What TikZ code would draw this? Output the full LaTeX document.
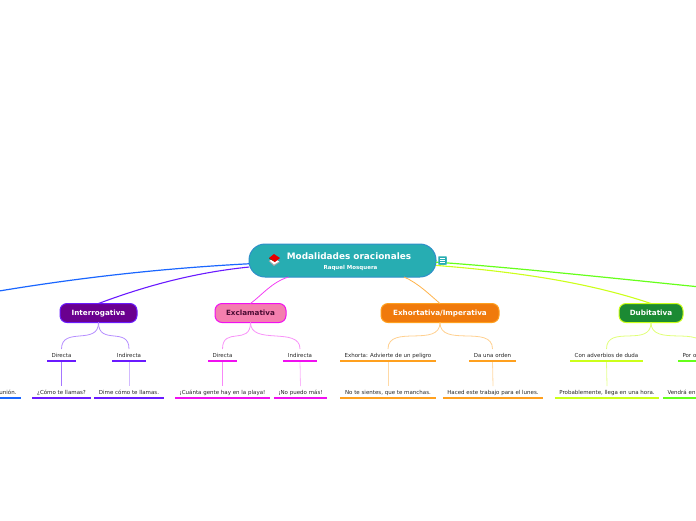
\documentclass[tikz,border=0pt]{standalone}
\usepackage{xcolor}
\usepackage{fontspec}
\setmainfont{DejaVu Sans}
\usepackage{tikz}

\definecolor{rootfill}{HTML}{27ADB2}
\definecolor{rootline}{HTML}{2E8FC9}
\definecolor{bluetone}{HTML}{1A66FF}
\definecolor{purpletone}{HTML}{6A1AFF}
\definecolor{pinktone}{HTML}{F010F0}
\definecolor{orangetone}{HTML}{FFA01E}
\definecolor{yellowtone}{HTML}{CCFF1A}
\definecolor{greentone}{HTML}{66FF1A}

\tikzset{
    mainnode/.style={draw, line width=1pt, rounded corners=7pt, minimum height=19pt, text height=6pt, text depth=0.8pt, inner sep=0pt, outer sep=0pt, font=\bfseries\fontsize{7.2}{8}\selectfont},
    topic/.style={minimum height=12pt, text height=5pt, text depth=1pt, inner ysep=0pt, inner xsep=4.5pt, outer sep=0pt, text=black!85, font=\fontsize{5.5}{6}\selectfont},
    under/.style={line width=1.5pt},
    branch/.style={line width=0.8pt},
}

\begin{document}
\begin{tikzpicture}[x=1pt, y=-1pt]
    \useasboundingbox (0, 0) rectangle (696, 520);

    \node[draw=rootline, fill=rootfill, line width=1pt, rounded corners=16pt, minimum width=187pt, minimum height=33pt, inner sep=0pt, outer sep=0pt] at (342.5, 260.5) (root) {};
    \node[text=white, font=\bfseries\fontsize{8.9}{10}\selectfont, inner sep=0pt] at (349, 256) (title) {Modalidades oracionales};
    \node[text=white, font=\bfseries\fontsize{5.5}{6}\selectfont, inner sep=0pt] at (350.5, 268) (author) {Raquel Mosquera};

    % book icon
    \fill[black!35] (268.5, 261) -- (275, 259) -- (280, 262) -- (274, 266) -- cycle;
    \fill[white] (269.5, 260.5) -- (275, 259) -- (279, 261.5) -- (274, 264.5) -- cycle;
    \fill[black!60!green] (269, 258.5) -- (274, 256) -- (275, 262) -- cycle;
    \fill[red!90!black] (269, 258) -- (274, 254) -- (280, 258) -- (275, 262) -- cycle;

    \node[mainnode, draw=purpletone, fill={rgb,255:red,106;green,0;blue,143}, text=white, minimum width=77pt] at (98.5, 313) (inter) {Interrogativa};
    \node[mainnode, draw=pinktone, fill={rgb,255:red,244;green,127;blue,174}, text={rgb,255:red,74;green,11;blue,51}, minimum width=71pt] at (250.5, 313) (excl) {Exclamativa};
    \node[mainnode, draw=orangetone, fill={rgb,255:red,240;green,122;blue,12}, text=white, minimum width=118pt] at (440, 313) (exho) {Exhortativa/Imperativa};
    \node[mainnode, draw=yellowtone, fill={rgb,255:red,27;green,138;blue,51}, text=white, minimum width=64pt] at (651, 313) (dubi) {Dubitativa};

    \node[topic, minimum width=29pt] at (61.5, 355) (dir1) {Directa};
    \node[topic, minimum width=34pt] at (129, 355) (ind1) {Indirecta};
    \node[topic, minimum width=29pt] at (222.5, 355) (dir2) {Directa};
    \node[topic, minimum width=34pt] at (300, 355) (ind2) {Indirecta};
    \node[topic, minimum width=96pt] at (388, 355) (adv) {Exhorta: Advierte de un peligro};
    \node[topic, minimum width=47pt] at (492.5, 355) (ord) {Da una orden};
    \node[topic, minimum width=73pt] at (606.5, 355) (dud) {Con adverbios de duda};
    \node[topic, minimum width=52pt, text width=43pt] at (704, 355) (otro) {Por o};

    \node[topic, minimum width=81pt, text width=72pt, align=right] at (-19.5, 392) (reun) {unión.};
    \node[topic, minimum width=59pt] at (61.5, 392) (como) {¿Cómo te llamas?};
    \node[topic, minimum width=70pt] at (129, 392) (dime) {Dime cómo te llamas.};
    \node[topic, minimum width=95pt] at (222.5, 392) (gente) {¡Cuánta gente hay en la playa!};
    \node[topic, minimum width=53pt] at (300.5, 392) (puedo) {¡No puedo más!};
    \node[topic, minimum width=96pt] at (388, 392) (sientes) {No te sientes, que te manchas.};
    \node[topic, minimum width=100pt] at (493, 392) (haced) {Haced este trabajo para el lunes.};
    \node[topic, minimum width=104pt] at (607, 392) (proba) {Probablemente, llega en una hora.};
    \node[topic, minimum width=82pt, text width=73pt] at (704, 392) (vendra) {Vendrá en};

    \coordinate (offleft) at (-30, 296);
    \coordinate (offright) at (730, 290);

    \draw[bluetone, line width=1.2pt] (root.182) .. controls (150, 269) and (60, 280) .. (offleft);
    \draw[purpletone, line width=1.1pt] (root.184) .. controls (190, 273) and (140, 288) .. (inter.north);
    \draw[pinktone!80!white, line width=0.8pt] (root.197) .. controls (272, 282) and (262, 295) .. (excl.north);
    \draw[orangetone!80!white, line width=0.8pt] (root.-15.5) .. controls (418, 283) and (430, 295) .. (exho.north);
    \draw[yellowtone, line width=1.1pt] (root.-3) .. controls (520, 272) and (590, 283) .. (dubi.north);
    \draw[greentone, line width=1.2pt] (root.-1) .. controls (520, 268) and (620, 279) .. (offright);

    \node[fill=rootfill, draw=rootfill!70!white, line width=0.4pt, rounded corners=1pt, minimum size=8.5pt, inner sep=0pt] at (442.5, 260.5) (note) {};
    \draw[white, line width=0.7pt] (note.center) ++(-2.5, -2) -- ++(5, 0) ++(-5, 2) -- ++(5, 0) ++(-5, 2) -- ++(5, 0);

    \draw[branch, purpletone!50!white] (inter.south) .. controls (98.5, 346) and (61.5, 326) .. (dir1.north);
    \draw[branch, purpletone!50!white] (inter.south) .. controls (98.5, 346) and (129, 326) .. (ind1.north);
    \draw[branch, pinktone!45!white] (excl.south) .. controls (250.5, 346) and (222.5, 326) .. (dir2.north);
    \draw[branch, pinktone!45!white] (excl.south) .. controls (250.5, 346) and (300, 326) .. (ind2.north);
    \draw[branch, orangetone!50!white] (exho.south) .. controls (440, 348) and (388, 324) .. (adv.north);
    \draw[branch, orangetone!50!white] (exho.south) .. controls (440, 348) and (492.5, 324) .. (ord.north);
    \draw[branch, yellowtone!60!white] (dubi.south) .. controls (651, 348) and (606.5, 324) .. (dud.north);
    \draw[branch, yellowtone!60!white] (dubi.south) .. controls (651, 348) and (704, 324) .. (otro.north);

    \draw[branch, purpletone!60!white] (dir1.south) -- (como.north);
    \draw[branch, purpletone!30!white] (ind1.south) -- (dime.north);
    \draw[branch, pinktone!50!white] (dir2.south) -- (gente.north);
    \draw[branch, pinktone!30!white] (ind2.south) -- (puedo.north);
    \draw[branch, orangetone!40!white] (adv.south) -- (sientes.north);
    \draw[branch, orangetone!40!white] (ord.south) -- (haced.north);
    \draw[branch, yellowtone!50!white] (dud.south) -- (proba.north);
    \draw[branch, greentone!50!white] (otro.south) -- (vendra.north);

    \draw[under, purpletone] (dir1.south west) -- (dir1.south east);
    \draw[under, purpletone] (ind1.south west) -- (ind1.south east);
    \draw[under, pinktone] (dir2.south west) -- (dir2.south east);
    \draw[under, pinktone] (ind2.south west) -- (ind2.south east);
    \draw[under, orangetone] (adv.south west) -- (adv.south east);
    \draw[under, orangetone] (ord.south west) -- (ord.south east);
    \draw[under, yellowtone] (dud.south west) -- (dud.south east);
    \draw[under, greentone] (otro.south west) -- (otro.south east);
    \draw[under, bluetone] (reun.south west) -- (reun.south east);
    \draw[under, purpletone] (como.south west) -- (como.south east);
    \draw[under, purpletone] (dime.south west) -- (dime.south east);
    \draw[under, pinktone] (gente.south west) -- (gente.south east);
    \draw[under, pinktone] (puedo.south west) -- (puedo.south east);
    \draw[under, orangetone] (sientes.south west) -- (sientes.south east);
    \draw[under, orangetone] (haced.south west) -- (haced.south east);
    \draw[under, yellowtone] (proba.south west) -- (proba.south east);
    \draw[under, greentone] (vendra.south west) -- (vendra.south east);
\end{tikzpicture}
\end{document}
